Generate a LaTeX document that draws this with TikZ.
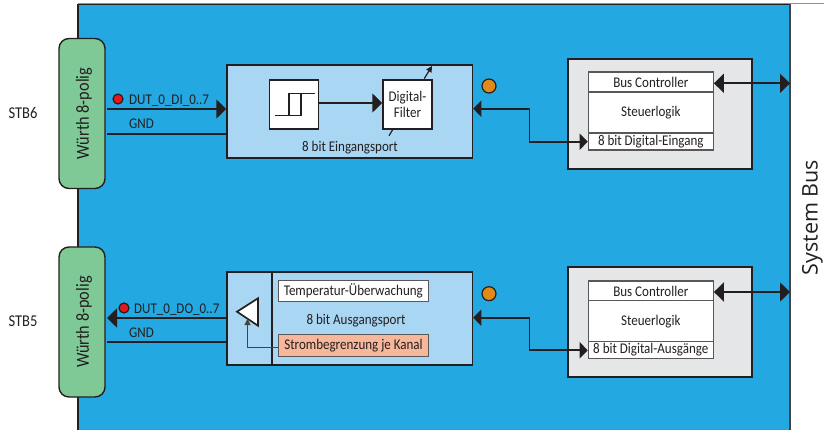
\documentclass[tikz,border=0pt]{standalone}
\usepackage{fontspec}
\setmainfont[FakeStretch=0.88]{Carlito}
\newfontfamily\busfont{Open Sans}
\usetikzlibrary{arrows.meta,calc}
\definecolor{dk}{HTML}{231F20}
\definecolor{bluebg}{HTML}{23A8E1}
\definecolor{portblue}{HTML}{A9D6F2}
\definecolor{congreen}{HTML}{7FC997}
\definecolor{ctlgray}{HTML}{E5E6E8}
\definecolor{salmon}{HTML}{F6B79B}
\definecolor{ledred}{HTML}{E8161C}
\definecolor{ledor}{HTML}{E28A17}
\tikzset{
 x=1pt,y=-1pt,
 lbl/.style={inner sep=0pt,text=dk,font=\fontsize{14.8}{14.8}\selectfont},
 box/.style={draw=dk,line width=1.5pt,inner sep=0pt,text=dk,font=\fontsize{14.8}{14.8}\selectfont},
 connector/.style={box,fill=congreen,rounded corners=10pt,minimum width=46pt,minimum height=150pt,line width=1.4pt},
 portbox/.style={box,fill=portblue,minimum width=245.5pt},
 ctlbox/.style={box,fill=ctlgray,minimum width=184pt,minimum height=110pt,line width=1.9pt},
 cell/.style={box,fill=white,draw=dk!75,minimum width=125pt,line width=1.2pt},
 inner/.style={box,fill=white,minimum width=49pt,minimum height=49pt},
 sig/.style={draw=dk,line width=1.7pt},
 thinsig/.style={draw=dk,line width=1.2pt},
 tipL/.style={-{Triangle[length=10pt,width=19pt]}},
 tipS/.style={-{Triangle[length=8pt,width=16pt]}},
 led/.style={circle,draw=dk,line width=1.2pt,inner sep=0pt,minimum size=#1},
 wurth/.style={lbl,rotate=90,font=\fontsize{18.5}{18.5}\selectfont},
}
\begin{document}
\begin{tikzpicture}
\useasboundingbox (0,0) rectangle (824,430);
% backplane
\fill[bluebg] (78,4) rectangle (790,430);
\draw[dk!50,line width=1pt] (78,4) -- (824,4);
\draw[dk,line width=1.3pt] (78,430) -- (78,4.5) -- (790,4.5) ;
\draw[dk!85,line width=1.3pt] (790,4) -- (790,430);
\node[lbl,rotate=90,font=\busfont\fontsize{21.5}{21.5}\selectfont] (sysbus) at (812.5,217.5) {System Bus};
% ---- upper channel
\node[lbl,font=\fontsize{16.5}{16.5}\selectfont] (stb6) at (23,113) {STB6};
\node[connector] (conA) at (82,113.5) {};
\node[wurth] (conAt) at (84,113.5) {Würth 8-polig};
\node[portbox,minimum height=93pt] (portA) at (349.75,111.5) {};
\node[inner] (schmitt) at (294,104.5) {};
\node[inner,align=center] (filter) at (407.5,104.5) {Digital-\\[2pt]Filter};
\node[lbl] (eing) at (350,148) {8 bit Eingangsport};
\coordinate (fs) at (389,135.7);
\coordinate (fe) at (432,66);
\draw[thinsig] (fs) -- ($(fs)!0.1!(fe)$);
\draw[thinsig,-{Triangle[length=6pt,width=6pt]}] ($(fs)!0.82!(fe)$) -- (fe);
% hysteresis symbol
\coordinate (h1) at (275,115.5);
\coordinate (h2) at (301,115.5);
\coordinate (h3) at (301,93.5);
\coordinate (h4) at (289,93.5);
\coordinate (h5) at (289,115.5);
\coordinate (h6) at (314.5,93.5);
\draw[thinsig] (h1) -- (h2) -- (h3) -- (h4) -- (h5);
\draw[thinsig] (h3) -- (h6);
\draw[sig,tipL] (schmitt.east |- 0,103) -- (filter.west |- 0,103);
\draw[sig,tipL] (107,109) -- (portA.west |- 0,109);
\draw[sig] (107,134) -- (portA.west |- 0,134);
\node[led=10pt,fill=ledred] (ledA) at (118,99) {};
\node[lbl,anchor=west] (dutA) at (129,100.5) {DUT\_0\_DI\_0..7};
\node[lbl,anchor=west] (gndA) at (129,123.5) {GND};
\node[led=14pt,fill=ledor] (orA) at (489,86) {};
\node[ctlbox] (ctlA) at (660.2,113.8) {};
\node[cell,minimum height=20pt] (busA) at (650.8,82) {Bus Controller};
\node[cell,minimum height=41pt] (logA) at (650.8,112.5) {Steuerlogik};
\node[cell,minimum height=17pt] (digA) at (650.8,141.5) {8 bit Digital-Eingang};
\draw[sig,tipS] (529.5,108.7) -- (portA.east |- 0,108.7);
\draw[sig,tipS] (529.5,108.7) -- (529.5,141.7) -- (digA.west |- 0,141.7);
\draw[sig,{Triangle[length=10pt,width=19pt]}-{Triangle[length=10pt,width=19pt]}] (busA.east |- 0,83.3) -- (790,83.3);
% ---- lower channel
\node[lbl,font=\fontsize{16.5}{16.5}\selectfont] (stb5) at (23,321) {STB5};
\node[connector] (conB) at (82,322) {};
\node[wurth] (conBt) at (84,322) {Würth 8-polig};
\node[portbox,minimum height=93pt] (portB) at (349.75,318.3) {};
\draw[sig] (portB.north -| 272,0) -- (portB.south -| 272,0);
\node[box,fill=white,draw=dk!75,line width=1.2pt,minimum width=150pt,minimum height=20.5pt] (temp) at (353.3,291) {Temperatur-Überwachung};
\node[box,fill=salmon,draw=dk!75,line width=1.2pt,minimum width=149.5pt,minimum height=22pt] (strom) at (353.5,345.3) {Strombegrenzung je Kanal};
\node[lbl] (ausg) at (356,320.5) {8 bit Ausgangsport};
\coordinate (t1) at (237,311.7);
\coordinate (t2) at (258,298.3);
\coordinate (t3) at (258,325.7);
\coordinate (t4) at (247.5,319);
\draw[sig,fill=white,line join=miter] (t1) -- (t2) -- (t3) -- cycle;
\draw[dk!85,line width=1pt,-{Triangle[length=6pt,width=6pt]}] (strom.west |- 0,347.3) -| (t4);
\draw[sig,tipL] (portB.west |- 0,318) -- (107,318);
\draw[sig] (portB.west |- 0,342.3) -- (107,342.3);
\node[led=10pt,fill=ledred] (ledB) at (124,308) {};
\node[lbl,anchor=west] (dutB) at (134,310) {DUT\_0\_DO\_0..7};
\node[lbl,anchor=west] (gndB) at (129,332.5) {GND};
\node[led=14pt,fill=ledor] (orB) at (489,293.7) {};
\node[ctlbox] (ctlB) at (660.2,322.3) {};
\node[cell,minimum height=20pt] (busB) at (650.8,291) {Bus Controller};
\node[cell,minimum height=41pt] (logB) at (650.8,321.3) {Steuerlogik};
\node[cell,minimum height=17pt] (digB) at (650.8,350) {8 bit Digital-Ausgänge};
\draw[sig,tipS] (529.5,317.7) -- (portB.east |- 0,317.7);
\draw[sig,tipS] (529.5,317.7) -- (529.5,350.3) -- (digB.west |- 0,350.3);
\draw[sig,{Triangle[length=10pt,width=19pt]}-{Triangle[length=10pt,width=19pt]}] (busB.east |- 0,292) -- (790,292);
\end{tikzpicture}
\end{document}
